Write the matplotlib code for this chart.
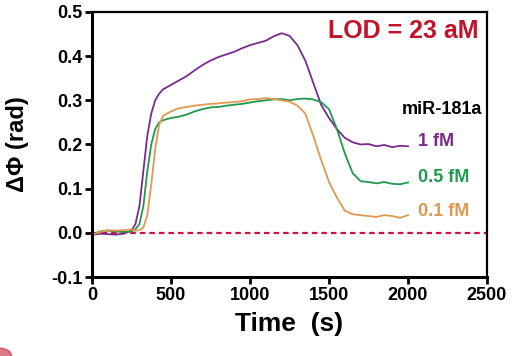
import matplotlib.pyplot as plt
from matplotlib.patches import Circle

# time axis (s)
time_s = [0, 50, 100, 150, 200, 250, 275, 300, 325, 350, 375, 400, 425, 450,
          500, 550, 600, 650, 700, 750, 800, 850, 900, 950, 1000, 1050, 1100,
          1150, 1200, 1250, 1300, 1350, 1400, 1450, 1500, 1550, 1600, 1650,
          1700, 1750, 1800, 1850, 1900, 1950, 2000]

# phase shift (rad) for each miR-181a concentration
phi_1fM = [-0.005, -0.002, -0.003, -0.004, -0.002, 0.005, 0.02, 0.06, 0.14,
           0.22, 0.27, 0.30, 0.315, 0.325, 0.335, 0.345, 0.355, 0.368, 0.38,
           0.39, 0.398, 0.404, 0.41, 0.418, 0.425, 0.43, 0.435, 0.445, 0.452,
           0.446, 0.425, 0.39, 0.34, 0.29, 0.26, 0.235, 0.215, 0.205, 0.2,
           0.201, 0.196, 0.199, 0.194, 0.197, 0.196]
phi_05fM = [-0.004, 0.003, 0.005, 0.003, 0.002, 0.003, 0.008, 0.02, 0.06,
            0.14, 0.2, 0.235, 0.25, 0.255, 0.26, 0.263, 0.268, 0.275, 0.28,
            0.284, 0.285, 0.288, 0.29, 0.292, 0.295, 0.298, 0.3, 0.302, 0.303,
            0.3, 0.303, 0.304, 0.302, 0.296, 0.28, 0.235, 0.18, 0.135, 0.117,
            0.115, 0.112, 0.115, 0.111, 0.11, 0.114]
phi_01fM = [-0.005, 0.002, 0.006, 0.005, 0.006, 0.008, 0.005, 0.006, 0.012,
            0.04, 0.11, 0.19, 0.245, 0.265, 0.275, 0.282, 0.285, 0.288, 0.29,
            0.292, 0.293, 0.295, 0.296, 0.298, 0.302, 0.303, 0.305, 0.303,
            0.3, 0.297, 0.288, 0.27, 0.22, 0.165, 0.115, 0.08, 0.05, 0.042,
            0.04, 0.038, 0.036, 0.04, 0.038, 0.034, 0.04]

series = [('1 fM', phi_1fM, '#7a2a8e', 142),
          ('0.5 fM', phi_05fM, '#1f9a4c', 178),
          ('0.1 fM', phi_01fM, '#e0994e', 212)]

plt.rcParams['font.family'] = ['Liberation Sans', 'DejaVu Sans']
plt.rcParams['font.weight'] = 'bold'

fig = plt.figure(figsize=(5.24, 3.56), dpi=100)
ax = fig.add_axes([92 / 524, 1 - 277 / 356, (487 - 92) / 524, (277 - 12) / 356])

for label, vals, color, ypix in series:
    ax.plot(time_s, vals, color=color, linewidth=1.3)
    fig.text(418 / 524, 1 - ypix / 356, label, color=color, fontsize=13,
             fontweight='bold', ha='left', va='center')

ax.axhline(0, color='#d01040', linestyle=(0, (2.5, 1.8)), linewidth=1.6, zorder=1)

ax.set_xlim(0, 2500)
ax.set_ylim(-0.1, 0.5)
ax.set_xticks([0, 500, 1000, 1500, 2000, 2500])
ax.set_yticks([-0.1, 0.0, 0.1, 0.2, 0.3, 0.4, 0.5])
ax.set_yticklabels(['-0.1', '0.0', '0.1', '0.2', '0.3', '0.4', '0.5'])
ax.tick_params(direction='out', length=5, width=2, labelsize=13, pad=2)
for lab in ax.get_xticklabels() + ax.get_yticklabels():
    lab.set_fontweight('bold')

ax.spines['left'].set_linewidth(2.2)
ax.spines['bottom'].set_linewidth(2.2)
ax.spines['top'].set_linewidth(1.6)
ax.spines['right'].set_linewidth(1.6)

ax.set_xlabel('Time  (s)', fontsize=19, fontweight='bold', labelpad=6)
fig.text(6 / 524, 1 - 144 / 356, 'ΔΦ (rad)', rotation=90, fontsize=17,
         fontweight='bold', ha='left', va='center')

fig.text(479 / 524, 1 - 31 / 356, 'LOD = 23 aM', color='#c0142a', fontsize=18,
         fontweight='bold', ha='right', va='center')
fig.text(482 / 524, 1 - 110 / 356, 'miR-181a', color='black', fontsize=13,
         fontweight='bold', ha='right', va='center')

# red corner fragment at bottom-left
fig.patches.append(Circle((0, 0), 0.022, transform=fig.transFigure,
                          color='#c8203a', alpha=0.6, zorder=0))

fig.savefig('out.png', dpi=100)
